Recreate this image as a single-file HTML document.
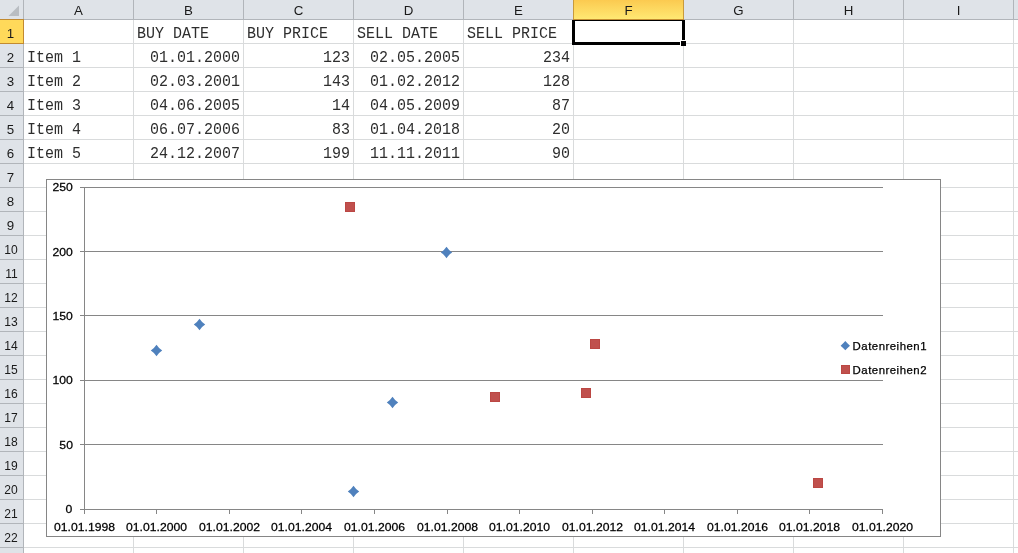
<!DOCTYPE html><html><head><meta charset="utf-8"><title>Sheet</title><style>
html,body{margin:0;padding:0}
body{width:1018px;height:553px;overflow:hidden;background:#fff;position:relative;font-family:"Liberation Sans",sans-serif}
.a{position:absolute}
.vl{position:absolute;width:1px;top:20px;height:533px;background:#d9dbdc}
.hl{position:absolute;height:1px;left:24px;width:994px;background:#d9dbdc}
.ch{position:absolute;top:1px;height:19px;line-height:19px;margin-left:0px;text-align:center;font-size:13.3px;color:#1a1a1a}
.rh{position:absolute;left:-1px;width:23px;height:23px;line-height:24px;margin-top:1.5px;text-align:center;font-size:13.3px;color:#1a1a1a}
.c{position:absolute;height:23px;line-height:23px;margin-top:1px;transform:scaleY(1.065);transform-origin:0 5px;font-family:"Liberation Mono",monospace;font-size:15.0px;color:#2e2e2e;white-space:pre}
.r{text-align:right}
svg text{font-family:"Liberation Sans",sans-serif}

</style></head><body>
<div class="vl" style="left:133px"></div>
<div class="vl" style="left:243px"></div>
<div class="vl" style="left:353px"></div>
<div class="vl" style="left:463px"></div>
<div class="vl" style="left:573px"></div>
<div class="vl" style="left:683px"></div>
<div class="vl" style="left:793px"></div>
<div class="vl" style="left:903px"></div>
<div class="vl" style="left:1013px"></div>
<div class="hl" style="top:43px"></div>
<div class="hl" style="top:67px"></div>
<div class="hl" style="top:91px"></div>
<div class="hl" style="top:115px"></div>
<div class="hl" style="top:139px"></div>
<div class="hl" style="top:163px"></div>
<div class="hl" style="top:187px"></div>
<div class="hl" style="top:211px"></div>
<div class="hl" style="top:235px"></div>
<div class="hl" style="top:259px"></div>
<div class="hl" style="top:283px"></div>
<div class="hl" style="top:307px"></div>
<div class="hl" style="top:331px"></div>
<div class="hl" style="top:355px"></div>
<div class="hl" style="top:379px"></div>
<div class="hl" style="top:403px"></div>
<div class="hl" style="top:427px"></div>
<div class="hl" style="top:451px"></div>
<div class="hl" style="top:475px"></div>
<div class="hl" style="top:499px"></div>
<div class="hl" style="top:523px"></div>
<div class="hl" style="top:547px"></div>
<div class="hl" style="top:571px"></div>
<div class="a" style="left:0;top:0;width:1018px;height:19px;background:#dfe3e8"></div>
<div class="a" style="left:0;top:19px;width:1018px;height:1px;background:#b1b5ba"></div>
<div class="a" style="left:0;top:20px;width:23px;height:533px;background:#dfe3e8"></div>
<div class="a" style="left:23px;top:0;width:1px;height:553px;background:#b1b5ba"></div>
<svg class="a" style="left:0;top:0" width="24" height="20"><polygon points="19,5.5 19,16 8.5,16" fill="#b9bdc2"/></svg>
<div class="a" style="left:133px;top:0;width:1px;height:19px;background:#b1b5ba"></div>
<div class="a" style="left:243px;top:0;width:1px;height:19px;background:#b1b5ba"></div>
<div class="a" style="left:353px;top:0;width:1px;height:19px;background:#b1b5ba"></div>
<div class="a" style="left:463px;top:0;width:1px;height:19px;background:#b1b5ba"></div>
<div class="a" style="left:573px;top:0;width:1px;height:19px;background:#b1b5ba"></div>
<div class="a" style="left:683px;top:0;width:1px;height:19px;background:#b1b5ba"></div>
<div class="a" style="left:793px;top:0;width:1px;height:19px;background:#b1b5ba"></div>
<div class="a" style="left:903px;top:0;width:1px;height:19px;background:#b1b5ba"></div>
<div class="a" style="left:1013px;top:0;width:1px;height:19px;background:#b1b5ba"></div>
<div class="a" style="left:0;top:43px;width:23px;height:1px;background:#b1b5ba"></div>
<div class="a" style="left:0;top:67px;width:23px;height:1px;background:#b1b5ba"></div>
<div class="a" style="left:0;top:91px;width:23px;height:1px;background:#b1b5ba"></div>
<div class="a" style="left:0;top:115px;width:23px;height:1px;background:#b1b5ba"></div>
<div class="a" style="left:0;top:139px;width:23px;height:1px;background:#b1b5ba"></div>
<div class="a" style="left:0;top:163px;width:23px;height:1px;background:#b1b5ba"></div>
<div class="a" style="left:0;top:187px;width:23px;height:1px;background:#b1b5ba"></div>
<div class="a" style="left:0;top:211px;width:23px;height:1px;background:#b1b5ba"></div>
<div class="a" style="left:0;top:235px;width:23px;height:1px;background:#b1b5ba"></div>
<div class="a" style="left:0;top:259px;width:23px;height:1px;background:#b1b5ba"></div>
<div class="a" style="left:0;top:283px;width:23px;height:1px;background:#b1b5ba"></div>
<div class="a" style="left:0;top:307px;width:23px;height:1px;background:#b1b5ba"></div>
<div class="a" style="left:0;top:331px;width:23px;height:1px;background:#b1b5ba"></div>
<div class="a" style="left:0;top:355px;width:23px;height:1px;background:#b1b5ba"></div>
<div class="a" style="left:0;top:379px;width:23px;height:1px;background:#b1b5ba"></div>
<div class="a" style="left:0;top:403px;width:23px;height:1px;background:#b1b5ba"></div>
<div class="a" style="left:0;top:427px;width:23px;height:1px;background:#b1b5ba"></div>
<div class="a" style="left:0;top:451px;width:23px;height:1px;background:#b1b5ba"></div>
<div class="a" style="left:0;top:475px;width:23px;height:1px;background:#b1b5ba"></div>
<div class="a" style="left:0;top:499px;width:23px;height:1px;background:#b1b5ba"></div>
<div class="a" style="left:0;top:523px;width:23px;height:1px;background:#b1b5ba"></div>
<div class="a" style="left:0;top:547px;width:23px;height:1px;background:#b1b5ba"></div>
<div class="a" style="left:0;top:571px;width:23px;height:1px;background:#b1b5ba"></div>
<div class="a" style="left:573px;top:0;width:111px;height:19px;background:linear-gradient(#fbca50,#ffe873);box-sizing:border-box;border-left:1px solid #c89a3c;border-right:1px solid #c89a3c"></div>
<div class="a" style="left:573px;top:19px;width:111px;height:1px;background:#c28a30"></div>
<div class="a" style="left:0;top:19px;width:24px;height:25px;background:#ffd95a;box-sizing:border-box;border:1px solid #c28a30;border-left:none"></div>
<div class="ch" style="left:24px;width:109px">A</div>
<div class="ch" style="left:134px;width:109px">B</div>
<div class="ch" style="left:244px;width:109px">C</div>
<div class="ch" style="left:354px;width:109px">D</div>
<div class="ch" style="left:464px;width:109px">E</div>
<div class="ch" style="left:574px;width:109px">F</div>
<div class="ch" style="left:684px;width:109px">G</div>
<div class="ch" style="left:794px;width:109px">H</div>
<div class="ch" style="left:904px;width:109px">I</div>
<div class="rh" style="top:20px">1</div>
<div class="rh" style="top:44px">2</div>
<div class="rh" style="top:68px">3</div>
<div class="rh" style="top:92px">4</div>
<div class="rh" style="top:116px">5</div>
<div class="rh" style="top:140px">6</div>
<div class="rh" style="top:164px">7</div>
<div class="rh" style="top:188px">8</div>
<div class="rh" style="top:212px">9</div>
<div class="rh" style="top:236px"><span style="display:inline-block;transform:translateX(0.6px) scaleX(0.91)">10</span></div>
<div class="rh" style="top:260px"><span style="display:inline-block;transform:translateX(0.6px) scaleX(0.91)">11</span></div>
<div class="rh" style="top:284px"><span style="display:inline-block;transform:translateX(0.6px) scaleX(0.91)">12</span></div>
<div class="rh" style="top:308px"><span style="display:inline-block;transform:translateX(0.6px) scaleX(0.91)">13</span></div>
<div class="rh" style="top:332px"><span style="display:inline-block;transform:translateX(0.6px) scaleX(0.91)">14</span></div>
<div class="rh" style="top:356px"><span style="display:inline-block;transform:translateX(0.6px) scaleX(0.91)">15</span></div>
<div class="rh" style="top:380px"><span style="display:inline-block;transform:translateX(0.6px) scaleX(0.91)">16</span></div>
<div class="rh" style="top:404px"><span style="display:inline-block;transform:translateX(0.6px) scaleX(0.91)">17</span></div>
<div class="rh" style="top:428px"><span style="display:inline-block;transform:translateX(0.6px) scaleX(0.91)">18</span></div>
<div class="rh" style="top:452px"><span style="display:inline-block;transform:translateX(0.6px) scaleX(0.91)">19</span></div>
<div class="rh" style="top:476px"><span style="display:inline-block;transform:translateX(0.6px) scaleX(0.91)">20</span></div>
<div class="rh" style="top:500px"><span style="display:inline-block;transform:translateX(0.6px) scaleX(0.91)">21</span></div>
<div class="rh" style="top:524px"><span style="display:inline-block;transform:translateX(0.6px) scaleX(0.91)">22</span></div>
<div class="c" style="left:137px;top:21px">BUY DATE</div>
<div class="c" style="left:247px;top:21px">BUY PRICE</div>
<div class="c" style="left:357px;top:21px">SELL DATE</div>
<div class="c" style="left:467px;top:21px">SELL PRICE</div>
<div class="c" style="left:27px;top:45px">Item 1</div>
<div class="c r" style="left:134px;width:106px;top:45px">01.01.2000</div>
<div class="c r" style="left:244px;width:106px;top:45px">123</div>
<div class="c r" style="left:354px;width:106px;top:45px">02.05.2005</div>
<div class="c r" style="left:464px;width:106px;top:45px">234</div>
<div class="c" style="left:27px;top:69px">Item 2</div>
<div class="c r" style="left:134px;width:106px;top:69px">02.03.2001</div>
<div class="c r" style="left:244px;width:106px;top:69px">143</div>
<div class="c r" style="left:354px;width:106px;top:69px">01.02.2012</div>
<div class="c r" style="left:464px;width:106px;top:69px">128</div>
<div class="c" style="left:27px;top:93px">Item 3</div>
<div class="c r" style="left:134px;width:106px;top:93px">04.06.2005</div>
<div class="c r" style="left:244px;width:106px;top:93px">14</div>
<div class="c r" style="left:354px;width:106px;top:93px">04.05.2009</div>
<div class="c r" style="left:464px;width:106px;top:93px">87</div>
<div class="c" style="left:27px;top:117px">Item 4</div>
<div class="c r" style="left:134px;width:106px;top:117px">06.07.2006</div>
<div class="c r" style="left:244px;width:106px;top:117px">83</div>
<div class="c r" style="left:354px;width:106px;top:117px">01.04.2018</div>
<div class="c r" style="left:464px;width:106px;top:117px">20</div>
<div class="c" style="left:27px;top:141px">Item 5</div>
<div class="c r" style="left:134px;width:106px;top:141px">24.12.2007</div>
<div class="c r" style="left:244px;width:106px;top:141px">199</div>
<div class="c r" style="left:354px;width:106px;top:141px">11.11.2011</div>
<div class="c r" style="left:464px;width:106px;top:141px">90</div>
<div class="a" style="left:572px;top:20px;width:113px;height:25px;box-sizing:border-box;border:3px solid #000;border-top-width:1px"></div>
<div class="a" style="left:680px;top:40px;width:6px;height:6px;background:#fff"></div>
<div class="a" style="left:681px;top:41px;width:5px;height:5px;background:#000"></div>
<svg class="a" style="left:46px;top:179px" width="895" height="358" viewBox="46 179 895 358">
<rect x="46.5" y="179.5" width="894" height="357" fill="#fff" stroke="#868686" stroke-width="1"/>
<line x1="80" y1="509.5" x2="883" y2="509.5" stroke="#868686" stroke-width="1"/>
<text transform="translate(72.2 513.1) scale(1.05 1)" text-anchor="end" font-size="11.6" letter-spacing="0" fill="#000" stroke="#000" stroke-width="0.25">0</text>
<line x1="80" y1="444.5" x2="883" y2="444.5" stroke="#868686" stroke-width="1"/>
<text transform="translate(72.9 448.73) scale(1.05 1)" text-anchor="end" font-size="11.6" letter-spacing="0" fill="#000" stroke="#000" stroke-width="0.25">50</text>
<line x1="80" y1="380.5" x2="883" y2="380.5" stroke="#868686" stroke-width="1"/>
<text transform="translate(72.9 384.36) scale(1.05 1)" text-anchor="end" font-size="11.6" letter-spacing="0" fill="#000" stroke="#000" stroke-width="0.25">100</text>
<line x1="80" y1="315.5" x2="883" y2="315.5" stroke="#868686" stroke-width="1"/>
<text transform="translate(72.9 319.99) scale(1.05 1)" text-anchor="end" font-size="11.6" letter-spacing="0" fill="#000" stroke="#000" stroke-width="0.25">150</text>
<line x1="80" y1="251.5" x2="883" y2="251.5" stroke="#868686" stroke-width="1"/>
<text transform="translate(72.9 255.62) scale(1.05 1)" text-anchor="end" font-size="11.6" letter-spacing="0" fill="#000" stroke="#000" stroke-width="0.25">200</text>
<line x1="80" y1="187.5" x2="883" y2="187.5" stroke="#868686" stroke-width="1"/>
<text transform="translate(72.9 191.25) scale(1.05 1)" text-anchor="end" font-size="11.6" letter-spacing="0" fill="#000" stroke="#000" stroke-width="0.25">250</text>
<line x1="84.5" y1="187" x2="84.5" y2="510" stroke="#868686" stroke-width="1"/>
<line x1="84.5" y1="510" x2="84.5" y2="514" stroke="#868686" stroke-width="1"/>
<text transform="translate(84.5 530.9) scale(1.05 1)" text-anchor="middle" font-size="11.6" letter-spacing="0" fill="#000" stroke="#000" stroke-width="0.25">01.01.1998</text>
<line x1="156.5" y1="510" x2="156.5" y2="514" stroke="#868686" stroke-width="1"/>
<text transform="translate(156.5 530.9) scale(1.05 1)" text-anchor="middle" font-size="11.6" letter-spacing="0" fill="#000" stroke="#000" stroke-width="0.25">01.01.2000</text>
<line x1="229.5" y1="510" x2="229.5" y2="514" stroke="#868686" stroke-width="1"/>
<text transform="translate(229.5 530.9) scale(1.05 1)" text-anchor="middle" font-size="11.6" letter-spacing="0" fill="#000" stroke="#000" stroke-width="0.25">01.01.2002</text>
<line x1="301.5" y1="510" x2="301.5" y2="514" stroke="#868686" stroke-width="1"/>
<text transform="translate(301.5 530.9) scale(1.05 1)" text-anchor="middle" font-size="11.6" letter-spacing="0" fill="#000" stroke="#000" stroke-width="0.25">01.01.2004</text>
<line x1="374.5" y1="510" x2="374.5" y2="514" stroke="#868686" stroke-width="1"/>
<text transform="translate(374.5 530.9) scale(1.05 1)" text-anchor="middle" font-size="11.6" letter-spacing="0" fill="#000" stroke="#000" stroke-width="0.25">01.01.2006</text>
<line x1="447.5" y1="510" x2="447.5" y2="514" stroke="#868686" stroke-width="1"/>
<text transform="translate(447.5 530.9) scale(1.05 1)" text-anchor="middle" font-size="11.6" letter-spacing="0" fill="#000" stroke="#000" stroke-width="0.25">01.01.2008</text>
<line x1="519.5" y1="510" x2="519.5" y2="514" stroke="#868686" stroke-width="1"/>
<text transform="translate(519.5 530.9) scale(1.05 1)" text-anchor="middle" font-size="11.6" letter-spacing="0" fill="#000" stroke="#000" stroke-width="0.25">01.01.2010</text>
<line x1="592.5" y1="510" x2="592.5" y2="514" stroke="#868686" stroke-width="1"/>
<text transform="translate(592.5 530.9) scale(1.05 1)" text-anchor="middle" font-size="11.6" letter-spacing="0" fill="#000" stroke="#000" stroke-width="0.25">01.01.2012</text>
<line x1="664.5" y1="510" x2="664.5" y2="514" stroke="#868686" stroke-width="1"/>
<text transform="translate(664.5 530.9) scale(1.05 1)" text-anchor="middle" font-size="11.6" letter-spacing="0" fill="#000" stroke="#000" stroke-width="0.25">01.01.2014</text>
<line x1="737.5" y1="510" x2="737.5" y2="514" stroke="#868686" stroke-width="1"/>
<text transform="translate(737.5 530.9) scale(1.05 1)" text-anchor="middle" font-size="11.6" letter-spacing="0" fill="#000" stroke="#000" stroke-width="0.25">01.01.2016</text>
<line x1="809.5" y1="510" x2="809.5" y2="514" stroke="#868686" stroke-width="1"/>
<text transform="translate(809.5 530.9) scale(1.05 1)" text-anchor="middle" font-size="11.6" letter-spacing="0" fill="#000" stroke="#000" stroke-width="0.25">01.01.2018</text>
<line x1="882.5" y1="510" x2="882.5" y2="514" stroke="#868686" stroke-width="1"/>
<text transform="translate(882.5 530.9) scale(1.05 1)" text-anchor="middle" font-size="11.6" letter-spacing="0" fill="#000" stroke="#000" stroke-width="0.25">01.01.2020</text>
<path d="M156.5 344.8 Q158.723 348.277 162.2 350.5 Q158.723 352.723 156.5 356.2 Q154.277 352.723 150.8 350.5 Q154.277 348.277 156.5 344.8Z" fill="#4f81bd"/>
<path d="M199.5 318.8 Q201.723 322.277 205.2 324.5 Q201.723 326.723 199.5 330.2 Q197.277 326.723 193.8 324.5 Q197.277 322.277 199.5 318.8Z" fill="#4f81bd"/>
<path d="M353.5 485.8 Q355.723 489.277 359.2 491.5 Q355.723 493.723 353.5 497.2 Q351.277 493.723 347.8 491.5 Q351.277 489.277 353.5 485.8Z" fill="#4f81bd"/>
<path d="M392.5 396.8 Q394.723 400.277 398.2 402.5 Q394.723 404.723 392.5 408.2 Q390.277 404.723 386.8 402.5 Q390.277 400.277 392.5 396.8Z" fill="#4f81bd"/>
<path d="M446.5 246.8 Q448.723 250.277 452.2 252.5 Q448.723 254.723 446.5 258.2 Q444.277 254.723 440.8 252.5 Q444.277 250.277 446.5 246.8Z" fill="#4f81bd"/>
<rect x="345.5" y="202.5" width="9" height="9" fill="#c0504d" stroke="#bb4743" stroke-width="1"/>
<rect x="590.5" y="339.5" width="9" height="9" fill="#c0504d" stroke="#bb4743" stroke-width="1"/>
<rect x="490.5" y="392.5" width="9" height="9" fill="#c0504d" stroke="#bb4743" stroke-width="1"/>
<rect x="813.5" y="478.5" width="9" height="9" fill="#c0504d" stroke="#bb4743" stroke-width="1"/>
<rect x="581.5" y="388.5" width="9" height="9" fill="#c0504d" stroke="#bb4743" stroke-width="1"/>
<path d="M845.3 340.95 Q847.462 343.488 850.0 345.65 Q847.462 347.81199999999995 845.3 350.34999999999997 Q843.1379999999999 347.81199999999995 840.5999999999999 345.65 Q843.1379999999999 343.488 845.3 340.95Z" fill="#4f81bd"/>
<text transform="translate(852.6 349.8) scale(1 1)" text-anchor="start" font-size="11.4" letter-spacing="0.5" fill="#000" stroke="#000" stroke-width="0.25">Datenreihen1</text>
<rect x="841.5" y="365.5" width="8" height="8" fill="#c0504d" stroke="#bb4743" stroke-width="1"/>
<text transform="translate(852.6 373.8) scale(1 1)" text-anchor="start" font-size="11.4" letter-spacing="0.5" fill="#000" stroke="#000" stroke-width="0.25">Datenreihen2</text>
</svg>
</body></html>
